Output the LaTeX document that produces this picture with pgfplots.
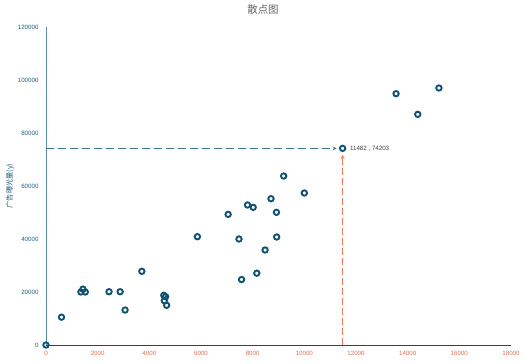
\documentclass[border=0pt]{standalone}
\usepackage{fontspec}
\setmainfont{Liberation Sans}
\newfontfamily\cjk{Noto Sans CJK SC}
\usepackage{pgfplots}
\pgfplotsset{compat=1.18}
\usetikzlibrary{arrows.meta}
\definecolor{ptc}{HTML}{0E5274}
\definecolor{ytk}{HTML}{1F5F7E}
\definecolor{xtk}{HTML}{E06F50}
\definecolor{hl}{HTML}{3F7B95}
\definecolor{vl}{HTML}{EC7A5E}
\definecolor{yax}{HTML}{5B8EA6}
\begin{document}
\begin{tikzpicture}[x=1bp,y=1bp]
\path[use as bounding box] (0,0) rectangle (527,363);
\node[text=black!60, font=\cjk\fontsize{10.5}{12}\selectfont] at (263,353) {散点图};
\node[rotate=90, text=ytk, font=\cjk\fontsize{7.2}{8}\selectfont] at (10,177) {广告曝光量(y)};
\begin{axis}[
  at={(46bp,18bp)}, anchor=origin,
  scale only axis, width=465bp, height=318bp,
  xmin=0, xmax=18000, ymin=0, ymax=120000,
  axis x line*=bottom, axis y line*=left,
  x axis line style={draw=black!75, line width=1bp},
  y axis line style={draw=yax, line width=1bp},
  xtick={0,2000,...,18000}, ytick={0,20000,...,120000},
  major tick length=0pt,
  scaled ticks=false,
  /pgf/number format/fixed,
  /pgf/number format/precision=0,
  /pgf/number format/1000 sep={},
  /pgf/number format/assume math mode=true,
  xticklabel style={font=\fontsize{6.2}{7}\selectfont, text=xtk, yshift=-3bp},
  yticklabel style={font=\fontsize{6.2}{7}\selectfont, text=ytk, xshift=-4bp},
  clip=false,
]
\addplot[hl, line width=1.3bp, dash pattern=on 8bp off 4bp, shorten >=6bp,
  -{Stealth[length=4bp,width=4bp]}] coordinates {(0,74203) (11482,74203)};
\addplot[vl, line width=1.3bp, dash pattern=on 7bp off 3bp, shorten >=6.5bp,
  -{Stealth[length=4bp,width=4bp]}] coordinates {(11482,0) (11482,74203)};
\addplot[only marks, mark=o, mark size=2.7bp,
  mark options={draw=ptc, fill=white, line width=1.9bp}] table {
x y
0 0
600 10500
1350 20000
1430 21100
1520 20000
2440 20100
2870 20100
3060 13200
3710 27800
4560 18750
4630 18230
4580 16720
4670 14980
5860 40870
7050 49300
7470 40000
7570 24700
7800 52830
8020 51950
8160 27100
8480 35850
8710 55200
8920 50070
8930 40750
9200 63770
10000 57360
11482 74203
13550 94830
14390 87040
15210 96980
};
\node[anchor=west, text=black!75, font=\fontsize{6.2}{7}\selectfont] at (axis cs:11482,74203) [xshift=4bp] {11482 , 74203};
\end{axis}
\end{tikzpicture}
\end{document}
